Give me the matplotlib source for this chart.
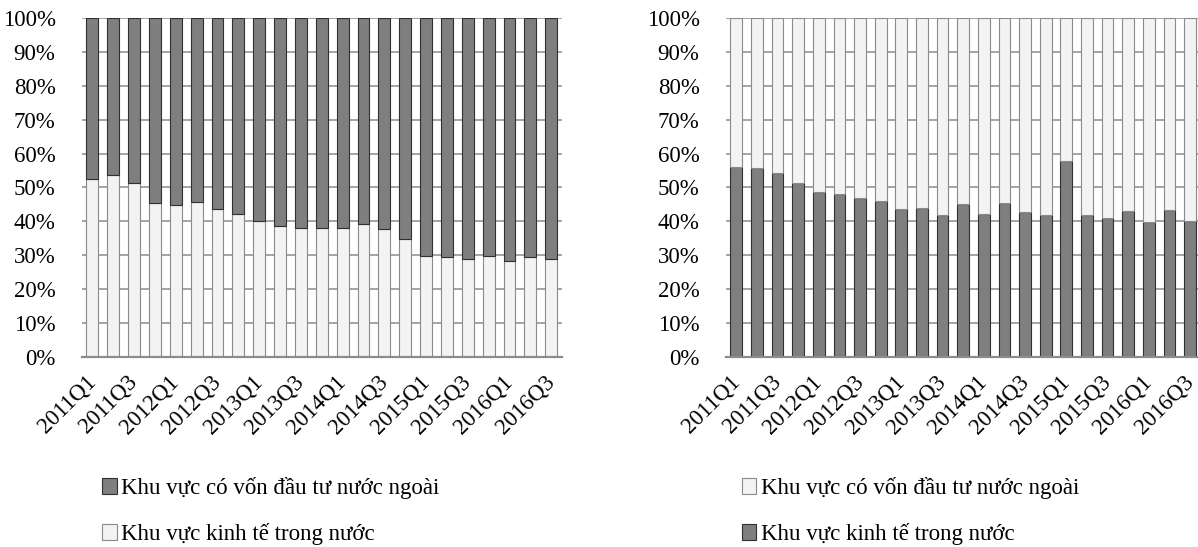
import matplotlib
matplotlib.use("Agg")
import matplotlib.pyplot as plt
import numpy as np

plt.rcParams['font.family'] = ['Liberation Serif', 'DejaVu Serif']

quarters = [f"{y}Q{q}" for y in range(2011, 2017) for q in range(1, 5)][:23]
tick_labels = quarters[::2]

# Left panel: share of domestic sector (bottom), foreign-invested sector on top (%)
left_domestic = [52.4, 53.6, 51.4, 45.3, 44.9, 45.7, 43.6, 42.1, 40.0, 38.6, 37.9, 37.9,
                 37.9, 39.1, 37.8, 34.7, 29.8, 29.4, 28.9, 29.8, 28.3, 29.4, 28.8]
left_foreign = [100 - v for v in left_domestic]

# Right panel: share of domestic sector (bottom), foreign-invested sector on top (%)
right_domestic = [56.1, 55.8, 54.3, 51.4, 48.7, 48.1, 46.9, 46.0, 43.6, 43.9, 41.9, 45.1,
                  42.2, 45.3, 42.9, 41.8, 57.8, 41.8, 40.9, 43.1, 39.8, 43.4, 40.1]
right_foreign = [100 - v for v in right_domestic]

label_foreign = "Khu vực có vốn đầu tư nước ngoài"
label_domestic = "Khu vực kinh tế trong nước"

DARK = "#7f7f7f"
LIGHT = "#f2f3f5"
DARK_EDGE = "#303030"
LIGHT_EDGE = "#8a8a8a"
GRID = "#8c8c8c"
FS = 16.5

fig = plt.figure(figsize=(11.98, 5.47), dpi=100)
ax_l = fig.add_axes([0.0684, 0.3479, 0.4004, 0.6187])
ax_r = fig.add_axes([0.6060, 0.3479, 0.3960, 0.6187])


def style(ax):
    x = np.arange(len(quarters))
    ax.set_xlim(-0.5, len(quarters) - 0.5)
    ax.set_ylim(0, 100)
    ax.set_yticks(np.arange(0, 101, 10))
    ax.set_yticklabels([f"{v}%" for v in range(0, 101, 10)], fontsize=FS)
    ax.set_xticks(x[::2])
    ax.set_xticklabels(tick_labels, fontsize=FS, rotation=45, ha='right',
                       va='center', rotation_mode='anchor')
    ax.tick_params(axis='both', length=0)
    ax.tick_params(axis='y', pad=19)
    ax.tick_params(axis='x', pad=16)
    ax.set_axisbelow(True)
    ax.yaxis.grid(True, color=GRID, linewidth=1.1)
    for s in ('left', 'right', 'top'):
        ax.spines[s].set_visible(False)
    ax.spines['bottom'].set_color(GRID)
    ax.spines['bottom'].set_linewidth(1.6)


x = np.arange(len(quarters))
W = 0.57

# Left: domestic light at bottom, foreign dark on top
b_dom_l = ax_l.bar(x, left_domestic, W, color=LIGHT, edgecolor=LIGHT_EDGE, linewidth=0.8,
                   label=label_domestic)
b_for_l = ax_l.bar(x, left_foreign, W, bottom=left_domestic, color=DARK, edgecolor=DARK_EDGE,
                   linewidth=0.8, label=label_foreign)
style(ax_l)

# Right: domestic dark at bottom, foreign light on top
b_dom_r = ax_r.bar(x, right_domestic, W, color=DARK, edgecolor=DARK_EDGE, linewidth=0.8,
                   label=label_domestic)
b_for_r = ax_r.bar(x, right_foreign, W, bottom=right_domestic, color=LIGHT, edgecolor=LIGHT_EDGE,
                   linewidth=0.8, label=label_foreign)
style(ax_r)

leg_kw = dict(frameon=False, fontsize=FS, handlelength=0.65, handleheight=0.65,
              handletextpad=0.2, labelspacing=1.05, borderpad=0, borderaxespad=0)
fig.legend([b_for_l, b_dom_l], [label_foreign, label_domestic], loc='upper left',
           bbox_to_anchor=(0.085, 0.128), bbox_transform=fig.transFigure, **leg_kw)
fig.legend([b_for_r, b_dom_r], [label_foreign, label_domestic], loc='upper left',
           bbox_to_anchor=(0.619, 0.128), bbox_transform=fig.transFigure, **leg_kw)

fig.savefig("out.png", dpi=100)
